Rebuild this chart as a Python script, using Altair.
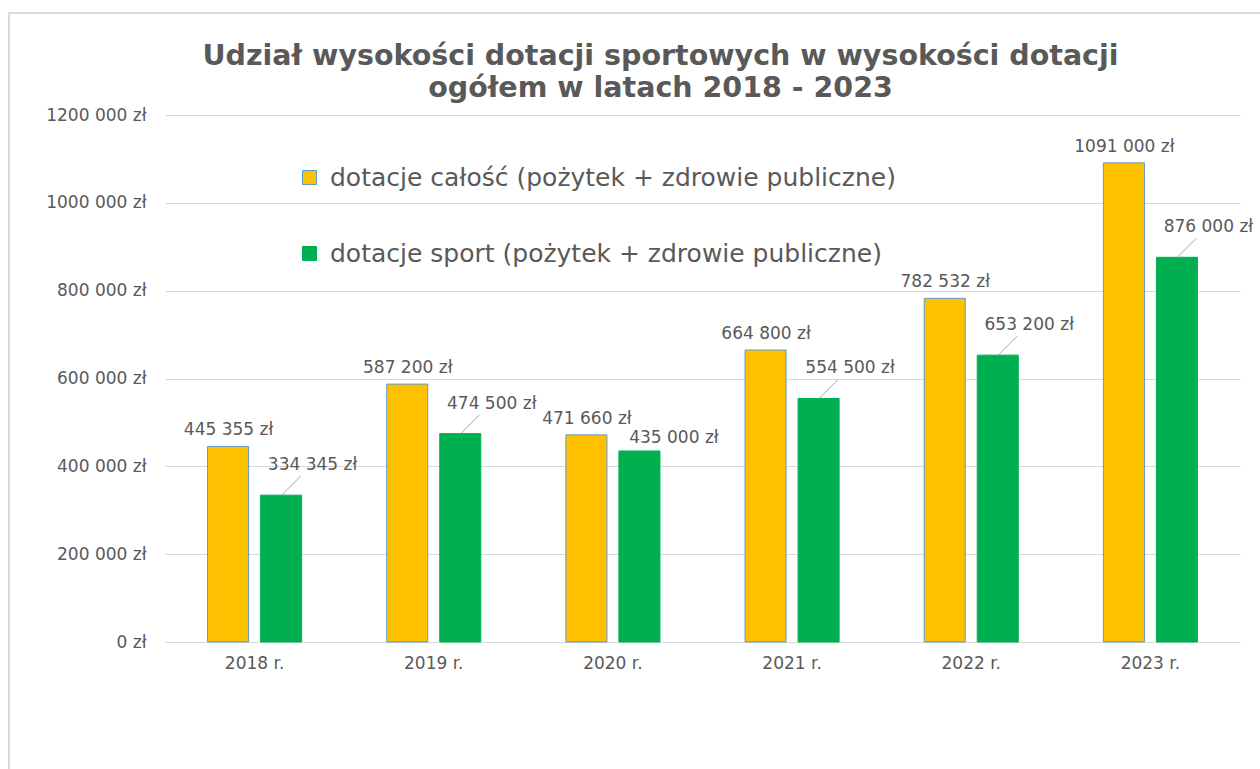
import altair as alt
import pandas as pd

years = ["2018 r.", "2019 r.", "2020 r.", "2021 r.", "2022 r.", "2023 r."]
total = [445355, 587200, 471660, 664800, 782532, 1091000]
sport = [334345, 474500, 435000, 554500, 653200, 876000]
series_names = [
    "dotacje całość (pożytek + zdrowie publiczne)",
    "dotacje sport (pożytek + zdrowie publiczne)",
]
colors = ["#FFC000", "#00B050"]
strokes = ["#5B9BD5", "#00B050"]
y_ticks = [0, 200000, 400000, 600000, 800000, 1000000, 1200000]
title_lines = [
    "Udział wysokości dotacji sportowych w wysokości dotacji",
    "ogółem w latach 2018 - 2023",
]


def fmt(v):
    s = f"{v:,}".replace(",", " ")
    if v >= 1_000_000:
        s = s.replace(" ", "", 1)
    return s + " zł"


rows = []
for yr, t, s in zip(years, total, sport):
    rows.append(dict(year=yr, series=series_names[0], value=t, total=t, label=fmt(t)))
    rows.append(dict(year=yr, series=series_names[1], value=s, total=t, label=fmt(s)))
df = pd.DataFrame(rows)

W, H = 1075, 527
TXT = "#595959"
FONT = "DejaVu Sans"

x = alt.X(
    "year:N",
    sort=years,
    scale=alt.Scale(paddingInner=0.475, paddingOuter=0.2375),
    axis=alt.Axis(
        title=None, labelAngle=0, labelFontSize=17, labelColor=TXT, labelFont=FONT,
        labelPadding=13, domainColor="#D9D9D9", domainWidth=1, ticks=False,
    ),
)
y = alt.Y(
    "value:Q",
    scale=alt.Scale(domain=[0, 1200000], nice=False),
    axis=alt.Axis(
        title=None, values=y_ticks,
        labelExpr="datum.value == 0 ? '0 zł' : format(datum.value / 1000, 'd') + ' 000 zł'",
        grid=True, gridColor="#D9D9D9", gridWidth=1, domain=False, ticks=False,
        labelPadding=19, labelFontSize=17, labelColor=TXT, labelFont=FONT,
    ),
)

legend = alt.Legend(
    title=None, orient="none", legendX=132, legendY=50, symbolType="square",
    symbolSize=196, labelFontSize=25, labelColor=TXT, labelFont=FONT,
    rowPadding=50, labelOffset=8, symbolStrokeWidth=1, labelLimit=900,
)

bars = alt.Chart(df).mark_bar(strokeWidth=1).encode(
    x=x,
    xOffset=alt.XOffset(
        "series:N", sort=series_names,
        scale=alt.Scale(domain=series_names, paddingInner=0.226, paddingOuter=0),
    ),
    y=y,
    color=alt.Color("series:N", scale=alt.Scale(domain=series_names, range=colors), legend=legend),
    stroke=alt.Stroke("series:N", scale=alt.Scale(domain=series_names, range=strokes), legend=legend),
)

lab_total = alt.Chart(df).transform_filter(
    alt.datum.series == series_names[0]
).mark_text(dx=-26, dy=-16, baseline="middle", fontSize=17, font=FONT, color=TXT).encode(
    x=alt.X("year:N", sort=years), y="value:Q", text="label:N"
)

# sport labels: pushed up with a leader line, unless the bar is close to its neighbour
far = (alt.datum.series == series_names[1]) & (alt.datum.total - alt.datum.value >= 60000)
near = (alt.datum.series == series_names[1]) & (alt.datum.total - alt.datum.value < 60000)

lab_sport_far = alt.Chart(df).transform_filter(far).mark_text(
    dx=58, dy=-30, baseline="middle", fontSize=17, font=FONT, color=TXT
).encode(x=alt.X("year:N", sort=years), y="value:Q", text="label:N")

lab_sport_near = alt.Chart(df).transform_filter(near).mark_text(
    dx=61, dy=-13, baseline="middle", fontSize=17, font=FONT, color=TXT
).encode(x=alt.X("year:N", sort=years), y="value:Q", text="label:N")

leaders = alt.Chart(df).transform_filter(far).mark_rule(
    xOffset=27, x2Offset=46, y2Offset=-19, color="#A6A6A6", strokeWidth=1
).encode(
    x=alt.X("year:N", sort=years), x2=alt.X2("year"), y="value:Q", y2=alt.Y2("value")
)

frame = alt.Chart(pd.DataFrame({"k": [0]})).mark_rect(
    fillOpacity=0, stroke="#D9D9D9", strokeWidth=2
).encode(
    x=alt.value(-156), x2=alt.value(1260 - 165 + 5),
    y=alt.value(-102), y2=alt.value(769 - 115 + 5),
)

chart = alt.layer(frame, bars, leaders, lab_total, lab_sport_far, lab_sport_near).properties(
    width=W, height=H,
    title=alt.TitleParams(
        text=title_lines, fontSize=28.5, font=FONT, fontWeight="bold", color=TXT,
        anchor="middle", dx=-42, offset=-90, lineHeight=32,
    ),
    autosize=alt.AutoSizeParams(type="none"),
    padding={"left": 165, "top": 115, "right": 20, "bottom": 127},
).configure_view(stroke=None)

chart.save("out.html", embed_options={"renderer": "svg", "actions": False})
